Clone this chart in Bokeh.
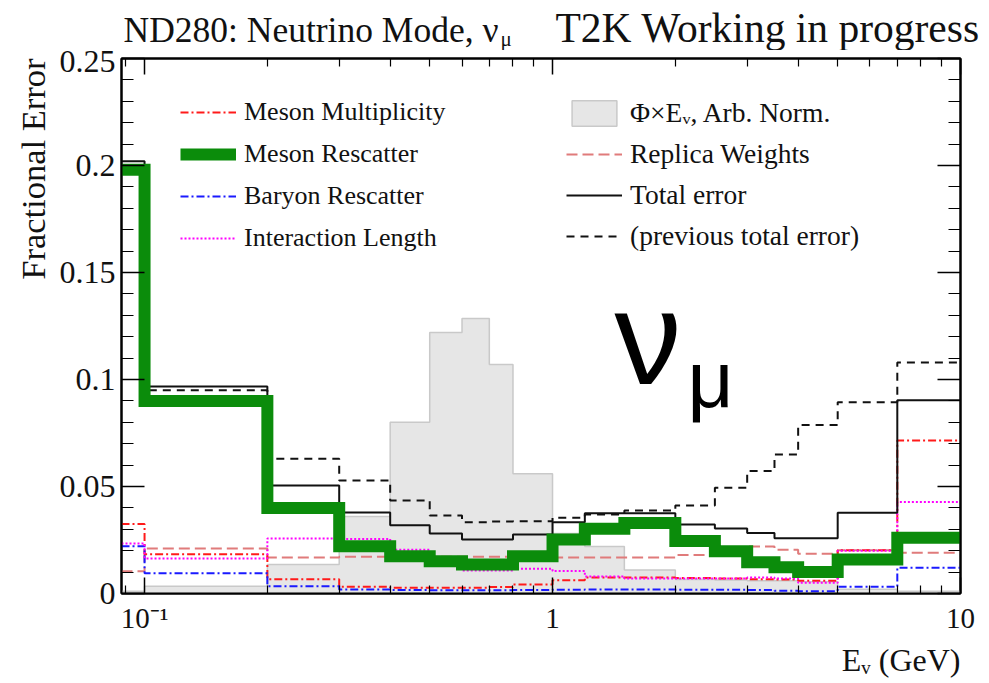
import math
from bokeh.plotting import figure
from bokeh.layouts import column
from bokeh.models import (Range1d, FixedTicker, LinearAxis, LogAxis, Label,
                          Legend, LegendItem, Plot, Title)
from bokeh.embed import file_html
from bokeh.resources import INLINE

# ---------------- data ----------------
bin_edges = [0.0, 0.1, 0.2, 0.3, 0.4, 0.5, 0.6, 0.7, 0.8, 1.0, 1.2, 1.5,
             2.0, 2.5, 3.0, 3.5, 4.0, 5.0, 7.0, 10.0]
flux = [0.001, 0.0034, 0.0136, 0.036, 0.080, 0.122, 0.1285, 0.107, 0.056,
        0.028, 0.022, 0.011, 0.0065, 0.0063, 0.006, 0.006, 0.0055, 0.002, 0.001]
total_err = [0.202, 0.0967, 0.0505, 0.0378, 0.0319, 0.0280, 0.0252, 0.0252,
             0.0276, 0.0333, 0.0375, 0.0375, 0.0322, 0.0304, 0.0283, 0.0258,
             0.0258, 0.0377, 0.0903]
prev_total_err = [0.200, 0.0950, 0.0630, 0.0528, 0.0435, 0.0364, 0.0333,
                  0.0336, 0.0338, 0.0354, 0.0369, 0.0388, 0.0411, 0.0494,
                  0.0572, 0.0650, 0.0787, 0.0894, 0.1080]
meson_rescatter = [0.198, 0.0899, 0.0400, 0.0221, 0.0174, 0.0151, 0.0136,
                   0.0136, 0.0174, 0.0252, 0.0302, 0.0330, 0.0245, 0.0198,
                   0.0146, 0.0123, 0.0100, 0.0159, 0.0260]
meson_multiplicity = [0.0325, 0.0183, 0.0067, 0.0032, 0.0027, 0.0027, 0.0027,
                      0.0030, 0.0042, 0.0062, 0.0075, 0.0075, 0.0072, 0.0070,
                      0.0067, 0.0066, 0.0060, 0.0202, 0.0715]
baryon_rescatter = [0.0221, 0.0095, 0.0034, 0.0019, 0.0016, 0.0015, 0.0015,
                    0.0015, 0.0016, 0.0018, 0.0019, 0.0019, 0.0018, 0.0017,
                    0.0016, 0.0013, 0.0011, 0.0031, 0.0120]
interaction_length = [0.0234, 0.0164, 0.0257, 0.0255, 0.0204, 0.0150, 0.0108,
                      0.0108, 0.0116, 0.0105, 0.0080, 0.0070, 0.0070, 0.0070,
                      0.0075, 0.0070, 0.0050, 0.0200, 0.0428]
replica_weights = [0.0104, 0.0210, 0.0168, 0.0172, 0.0172, 0.0172, 0.0172,
                   0.0172, 0.0172, 0.0168, 0.0168, 0.0168, 0.0180, 0.0180,
                   0.0220, 0.0204, 0.0186, 0.0202, 0.0190]
x_major = [0.1, 1, 10]
x_tick_labels = {0.1: "10\u207b\u00b9", 1: "1", 10: "10"}
y_major = [0, 0.05, 0.1, 0.15, 0.2, 0.25]
y_tick_labels = {0: "0", 0.05: "0.05", 0.1: "0.1", 0.15: "0.15", 0.2: "0.2", 0.25: "0.25"}

X_MIN, X_MAX = 0.0878, 10.0
edges = [max(e, X_MIN) for e in bin_edges]

SERIF = "Liberation Serif"
INK = "#111111"
HAS_FA = "frame_align" in Plot.properties()
LEFT = 121


def step_y(vals):
    return list(vals) + [vals[-1]]


def add_label(fig, x, y, text, size, font=SERIF, color=INK, **kw):
    kw.setdefault("text_baseline", "alphabetic")
    fig.add_layout(Label(x=x, y=y, x_units="screen", y_units="screen", text=text,
                         text_font=font, text_font_size=size,
                         text_color=color, **kw))


# ================= header strip with the titles =================
head = figure(width=988, height=50, x_range=Range1d(0, 1), y_range=Range1d(0, 1),
              output_backend="svg", toolbar_location=None,
              x_axis_location=None, y_axis_location=None,
              min_border=0, title=None)
head.grid.visible = False
head.outline_line_color = None
head.background_fill_color = "white"
head.border_fill_color = "white"
hx = 0 if HAS_FA else -LEFT
if HAS_FA:
    head.frame_align = False

add_label(head, hx + 123, 21, "ND280: Neutrino Mode, \u03bd", "35.5px")
add_label(head, hx + 500, 12, "\u03bc", "21px")
add_label(head, hx + 555, 23, "T2K Working in progress", "41.5px")

# ================= main plot =================
p = figure(width=975, height=633, x_axis_type="log",
           x_range=Range1d(X_MIN, X_MAX), y_range=Range1d(0, 0.25),
           output_backend="svg", toolbar_location=None, title=None,
           min_border_left=LEFT, min_border_right=15,
           min_border_top=8, min_border_bottom=90)
if HAS_FA:
    p.frame_align = False
p.grid.visible = False
p.outline_line_color = "black"
p.outline_line_width = 2
p.background_fill_color = "white"
p.border_fill_color = "white"

x_ticker = FixedTicker(ticks=x_major,
                       minor_ticks=[0.09] +
                                   [m * 0.1 for m in range(2, 10)] +
                                   [m * 1.0 for m in range(2, 10)])
y_ticker = FixedTicker(ticks=y_major,
                       minor_ticks=[k * 0.01 for k in range(0, 26)])

xa = p.xaxis[0]
xa.ticker = x_ticker
xa.major_label_overrides = x_tick_labels
ya = p.yaxis[0]
ya.ticker = y_ticker
ya.major_label_overrides = y_tick_labels

xa.major_tick_in = 16
xa.major_tick_out = 0
xa.minor_tick_in = 8
xa.minor_tick_out = 0
ya.major_tick_in = 23
ya.major_tick_out = 0
ya.minor_tick_in = 12
ya.minor_tick_out = 0

for ax in (xa, ya):
    ax.axis_line_width = 2
    ax.major_tick_line_width = 1.5
    ax.minor_tick_line_width = 1.2
    ax.major_label_text_font = SERIF
    ax.major_label_text_color = INK
xa.major_label_text_font_size = "29px"
xa.major_label_standoff = 8
ya.major_label_text_font_size = "32px"
ya.major_label_standoff = 6

top = LogAxis(ticker=x_ticker, major_tick_in=16, major_tick_out=0,
              minor_tick_in=8, minor_tick_out=0, axis_line_width=2,
              major_tick_line_width=1.5, minor_tick_line_width=1.2,
              major_label_overrides={t: "" for t in x_major},
              major_label_text_font_size="1px", major_label_standoff=0)
right = LinearAxis(ticker=y_ticker, major_tick_in=23, major_tick_out=0,
                   minor_tick_in=12, minor_tick_out=0, axis_line_width=2,
                   major_tick_line_width=1.5, minor_tick_line_width=1.2,
                   major_label_overrides={t: "" for t in y_major},
                   major_label_text_font_size="1px", major_label_standoff=0)
p.add_layout(top, "above")
p.add_layout(right, "right")

# axis titles (ROOT style: aligned to the far end of each axis)
p.add_layout(Title(text="Fractional Error", align="right", text_font=SERIF,
                   text_font_size="34.5px", text_font_style="normal",
                   text_color=INK, standoff=10), "left")
p.add_layout(Title(text="E\u1d65 (GeV)", align="right", text_font=SERIF,
                   text_font_size="32px", text_font_style="normal",
                   text_color=INK, standoff=6), "below")

# ---------- flux histogram (filled step) ----------
fx, fy = [edges[0]], [0.0]
for i, v in enumerate(flux):
    fx += [edges[i], edges[i + 1]]
    fy += [v, v]
fx.append(edges[-1])
fy.append(0.0)
r_flux = p.patch(fx, fy, fill_color="#e6e6e6", line_color="#c9c9c9", line_width=1.5)

# ---------- error histograms ----------
r_rw = p.step(edges, step_y(replica_weights), mode="after",
              line_color="#e07b7b", line_width=2, line_dash="11 5")
r_mm = p.step(edges, step_y(meson_multiplicity), mode="after",
              line_color="#ff1a1a", line_width=2, line_dash="8 3 2 3")
r_br = p.step(edges, step_y(baryon_rescatter), mode="after",
              line_color="#1a1aff", line_width=2, line_dash="8 3 2 3")
r_il = p.step(edges, step_y(interaction_length), mode="after",
              line_color="#ff00ff", line_width=2, line_dash="2 2")
r_tot = p.step(edges, step_y(total_err), mode="after",
               line_color=INK, line_width=2)
r_prev = p.step(edges, step_y(prev_total_err), mode="after",
                line_color=INK, line_width=2, line_dash="8 6")
r_mr = p.step(edges, step_y(meson_rescatter), mode="after",
              line_color="#0b8c0b", line_width=12, line_join="miter")

# ---------- legends ----------
common = dict(background_fill_alpha=0, border_line_color=None, padding=0,
              margin=0, glyph_width=56, label_standoff=8,
              label_text_font=SERIF, label_text_color=INK)
leg1 = Legend(items=[LegendItem(label="Meson Multiplicity", renderers=[r_mm]),
                     LegendItem(label="Meson Rescatter", renderers=[r_mr]),
                     LegendItem(label="Baryon Rescatter", renderers=[r_br]),
                     LegendItem(label="Interaction Length", renderers=[r_il])],
              location=(59, 340), label_text_font_size="26px",
              spacing=12, glyph_height=30, label_height=30, **common)
leg2 = Legend(items=[LegendItem(label="\u03a6\u00d7E\u1d65, Arb. Norm.", renderers=[r_flux]),
                     LegendItem(label="Replica Weights", renderers=[r_rw]),
                     LegendItem(label="Total error", renderers=[r_tot]),
                     LegendItem(label="(previous total error)", renderers=[r_prev])],
              location=(445, 341), label_text_font_size="27.5px",
              spacing=9, glyph_height=32, label_height=32, **common)
p.add_layout(leg1)
p.add_layout(leg2)

# big nu_mu annotation inside the frame
add_label(p, 493, 256, "\u03bd", "134px", font="Liberation Sans", color="black")
add_label(p, 566, 214, "\u03bc", "80px", font="Liberation Sans", color="black")

layout = column(head, p, spacing=0)
open("out.html", "w").write(file_html(layout, INLINE))
